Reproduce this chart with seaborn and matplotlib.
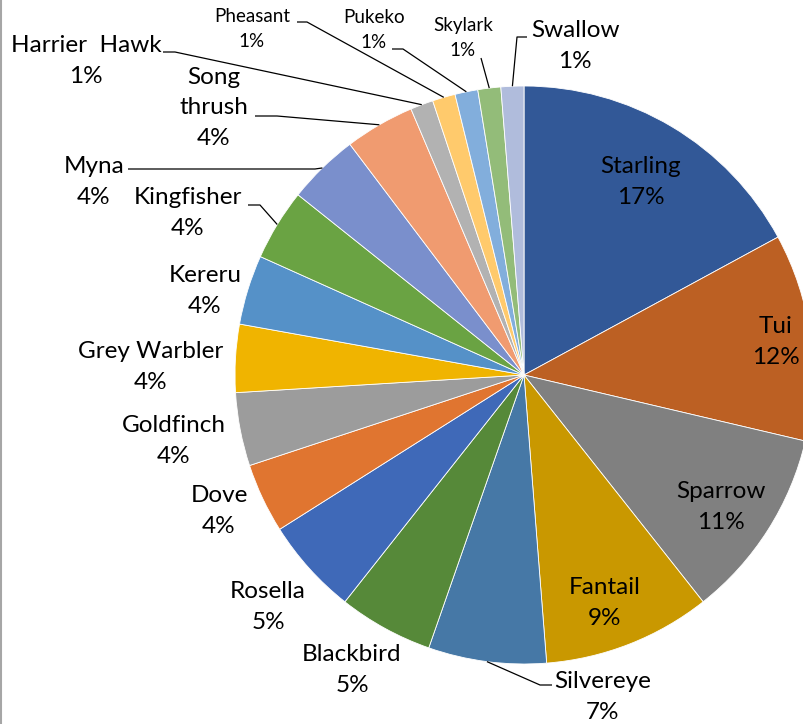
import numpy as np
import matplotlib
matplotlib.use("Agg")
import matplotlib.pyplot as plt
from matplotlib.lines import Line2D
import seaborn as sns

# bird share of counts, clockwise from 12 o'clock
birds = ["Starling", "Tui", "Sparrow", "Fantail", "Silvereye", "Blackbird",
         "Rosella", "Dove", "Goldfinch", "Grey Warbler", "Kereru",
         "Kingfisher", "Myna", "Song thrush", "Harrier  Hawk", "Pheasant",
         "Pukeko", "Skylark", "Swallow"]
share = [17.1, 11.6, 10.7, 9.4, 6.6, 5.3, 5.4, 3.9, 4.1, 3.8, 3.9,
         4.0, 4.0, 3.9, 1.28, 1.28, 1.28, 1.28, 1.28]
colors = ["#325897", "#BC6023", "#808080", "#C99800", "#4678A6", "#568939",
          "#3F69B8", "#E07530", "#9C9C9C", "#F0B400", "#5591C8", "#6AA343",
          "#7A8FCC", "#F09B70", "#B2B2B2", "#FFCA6C", "#82AEDC", "#93BC79",
          "#B0BCDC"]

sns.set_theme(style="white")
plt.rcParams["font.family"] = ["Lato", "DejaVu Sans"]

W, H = 804, 724
cx, cy, R = 524, 375, 289

fig = plt.figure(figsize=(W / 100, H / 100), dpi=100)
ax = fig.add_axes([0, 0, 1, 1])

ax.pie(share, colors=colors, startangle=90, counterclock=False,
       center=(cx, H - cy), radius=R,
       wedgeprops=dict(edgecolor="white", linewidth=0.6))
ax.set_xlim(0, W)
ax.set_ylim(0, H)
ax.set_aspect("equal")
ax.axis("off")

# label centres in pixel coords (from top-left)
label_pos = {
    "Starling": (641, 182), "Tui": (776, 342), "Sparrow": (721, 507),
    "Fantail": (605, 603), "Silvereye": (603, 697), "Blackbird": (352, 670),
    "Rosella": (268, 607), "Dove": (219, 511), "Goldfinch": (174, 441),
    "Grey Warbler": (151, 367), "Kereru": (205, 291),
    "Kingfisher": (188, 213), "Myna": (94, 182), "Song thrush": (214, 108),
    "Harrier  Hawk": (86, 61), "Pheasant": (252, 29), "Pukeko": (374, 30),
    "Skylark": (463, 38), "Swallow": (575, 46),
}
small = {"Pheasant", "Pukeko", "Skylark"}

# leader lines: elbow and end points (pixel coords)
leaders = {
    "Silvereye": [(540, 685), (552, 685)],
    "Kingfisher": [(260, 205), (248, 205)],
    "Myna": [(315, 169), (128, 169)],
    "Song thrush": [(277, 116), (255, 116)],
    "Harrier  Hawk": [(175, 52), (163, 52)],
    "Pheasant": [(307, 22), (297, 22)],
    "Pukeko": [(403, 49), (392, 49)],
    "Skylark": [(481, 58)],
    "Swallow": [(517, 37), (527, 37)],
}

total = sum(share)
cum = np.cumsum([0] + share)
for i, b in enumerate(birds):
    pct = round(100 * share[i] / total)
    txt = b.replace("Song thrush", "Song\nthrush") + "\n" + f"{pct}%"
    x, y = label_pos[b]
    fs = 13.5 if b in small else 17.5
    ax.text(x, H - y, txt, ha="center", va="center", fontsize=fs,
            color="black", linespacing=1.55)
    if b in leaders:
        mid = np.deg2rad(360 * (cum[i] + cum[i + 1]) / 2 / total)
        ex, ey = cx + R * np.sin(mid), cy - R * np.cos(mid)
        pts = [(ex, ey)] + leaders[b]
        ax.plot([p[0] for p in pts], [H - p[1] for p in pts],
                color="black", lw=0.9, solid_capstyle="butt")

# grey frame edge on the left
fig.add_artist(Line2D([0.0015, 0.0015], [0, 1], transform=fig.transFigure,
                      color="#A6A6A6", lw=1.5))

fig.savefig("out.png", dpi=100)
